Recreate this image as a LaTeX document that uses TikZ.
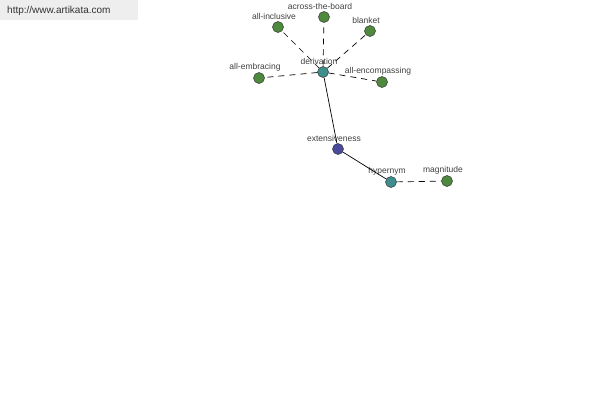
\documentclass[tikz,border=0pt]{standalone}
\usepackage{fontspec}
\setmainfont{Liberation Sans}
\definecolor{leaf}{HTML}{4E8A3E}
\definecolor{rel}{HTML}{3E8E8E}
\definecolor{root}{HTML}{4A4A9C}
\definecolor{banner}{HTML}{EEEEEE}
\tikzset{
  word/.style={circle, draw=black!80, line width=0.5pt, inner sep=0pt, minimum size=11pt},
  lbl/.style={font=\fontsize{8.5}{9}\selectfont, text=black!75, inner sep=1pt, xshift=-4pt},
  link/.style={line width=0.7pt, dash pattern=on 6pt off 5pt},
}
\begin{document}
\begin{tikzpicture}[x=1pt, y=-1pt]
    % page: 600 x 400 pixels
\useasboundingbox (0,0) rectangle (600,400);

% bandeau du site
\fill[banner] (0,0) rectangle (138,20);
\node[font=\fontsize{10}{11}\selectfont, text=black!80, anchor=west, inner sep=0pt] (site) at (7,11) {http://www.artikata.com};

% les mots
\node[word, fill=rel, label={[lbl]above:derivation}] (derivation) at (323,72) {};
\node[word, fill=leaf, label={[lbl]above:all-inclusive}] (inclusive) at (278,27) {};
\node[word, fill=leaf, label={[lbl]above:across-the-board}] (board) at (324,17) {};
\node[word, fill=leaf, label={[lbl]above:blanket}] (blanket) at (370,31) {};
\node[word, fill=leaf, label={[lbl]above:all-embracing}] (embracing) at (259,78) {};
\node[word, fill=leaf, label={[lbl]above:all-encompassing}] (encompassing) at (382,82) {};
\node[word, fill=root, label={[lbl]above:extensiveness}] (extensiveness) at (338,149) {};
\node[word, fill=rel, label={[lbl]above:hypernym}] (hypernym) at (391,182) {};
\node[word, fill=leaf, label={[lbl]above:magnitude}] (magnitude) at (447,181) {};

% liens
\foreach \w in {inclusive, board, blanket, embracing, encompassing}
  \draw[link] (derivation) -- (\w);
\draw[line width=0.7pt] (derivation) -- (extensiveness);
\draw[line width=0.7pt] (extensiveness) -- (hypernym);
\draw[link] (hypernym) -- (magnitude);
\end{tikzpicture}
\end{document}
